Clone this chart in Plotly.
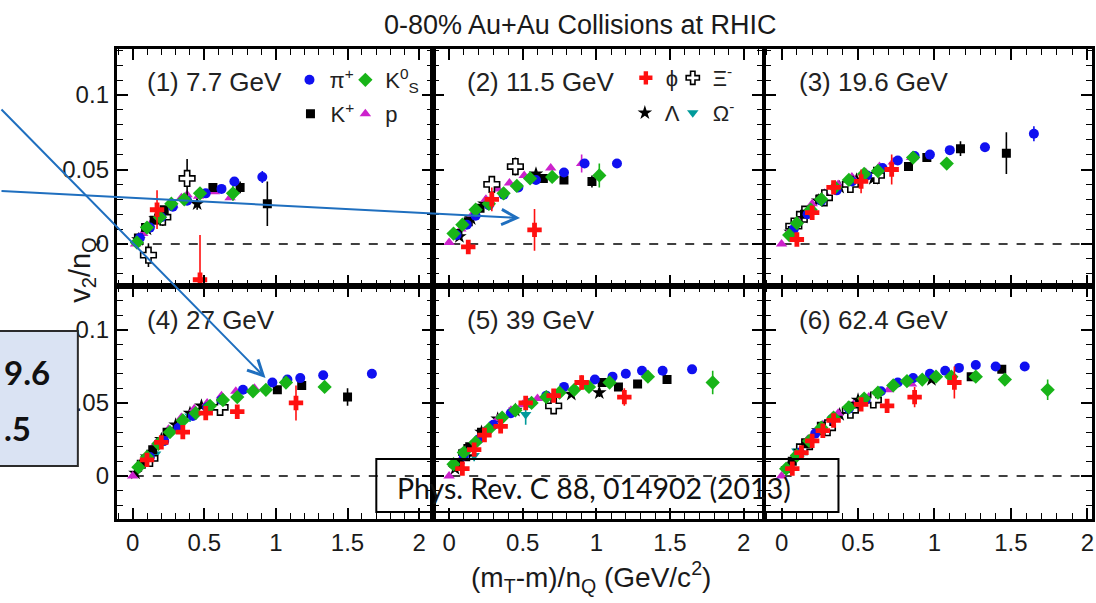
import plotly.graph_objects as go

W, H = 1096, 603

# ---------------- data (x = (mT-m)/nQ, y = v2/nQ, e = error) ----------------
PANEL_LABELS = ["(1) 7.7 GeV", "(2) 11.5 GeV", "(3) 19.6 GeV",
                "(4) 27 GeV", "(5) 39 GeV", "(6) 62.4 GeV"]
X_TICKS = [0, 0.5, 1, 1.5, 2]
Y_TICKS = [0, 0.05, 0.1]

PION_X = [[0.05, 0.12, 0.20, 0.28, 0.38, 0.51, 0.62, 0.71, 0.905],
          [0.05, 0.12, 0.18, 0.27, 0.37, 0.47, 0.59, 0.78, 0.92, 1.14],
          [0.08, 0.17, 0.26, 0.36, 0.46, 0.56, 0.66, 0.76, 0.87, 0.97, 1.10, 1.33, 1.65],
          [0.12, 0.22, 0.32, 0.42, 0.52, 0.62, 0.77, 0.975, 1.08, 1.17, 1.33, 1.67],
          [0.10, 0.20, 0.30, 0.42, 0.55, 0.66, 0.78, 0.99, 1.11, 1.20, 1.31, 1.45, 1.65],
          [0.12, 0.22, 0.33, 0.44, 0.55, 0.65, 0.76, 0.86, 0.97, 1.07, 1.16, 1.27, 1.40, 1.59]]
PION_Y = [[0.004, 0.011, 0.018, 0.025, 0.029, 0.034, 0.037, 0.042, 0.045],
          [0.006, 0.013, 0.019, 0.026, 0.033, 0.038, 0.043, 0.048, 0.054, 0.054],
          [0.010, 0.020, 0.029, 0.036, 0.042, 0.046, 0.051, 0.056, 0.059, 0.060, 0.063, 0.065, 0.074],
          [0.013, 0.024, 0.033, 0.041, 0.047, 0.052, 0.059, 0.064, 0.066, 0.067, 0.069, 0.070],
          [0.014, 0.025, 0.035, 0.043, 0.050, 0.055, 0.061, 0.066, 0.068, 0.070, 0.072, 0.072, 0.073],
          [0.016, 0.029, 0.039, 0.046, 0.052, 0.058, 0.064, 0.067, 0.070, 0.072, 0.074, 0.076, 0.075, 0.075]]
PION_E = [[0, 0, 0, 0, 0, 0, 0, 0.002, 0.004],
          [0, 0, 0, 0, 0, 0, 0, 0, 0.003, 0.002],
          [0, 0, 0, 0, 0, 0, 0, 0, 0, 0, 0, 0, 0.005],
          [0] * 12,
          [0] * 13,
          [0] * 14]

K0S_X = [[0.03, 0.10, 0.19, 0.27, 0.36, 0.47, 0.70],
         [0.03, 0.09, 0.18, 0.27, 0.37, 0.46, 0.55, 0.70, 1.02],
         [0.05, 0.10, 0.19, 0.26, 0.35, 0.44, 0.54, 0.63, 0.86, 1.08],
         [0.04, 0.10, 0.18, 0.26, 0.35, 0.44, 0.54, 0.63, 0.73, 0.84, 0.93, 1.07, 1.34],
         [0.03, 0.10, 0.18, 0.27, 0.36, 0.45, 0.56, 0.66, 0.75, 0.85, 0.95, 1.09, 1.35, 1.79],
         [0.03, 0.10, 0.18, 0.26, 0.34, 0.44, 0.54, 0.63, 0.73, 0.82, 0.92, 1.01, 1.11, 1.27, 1.46, 1.74]]
K0S_Y = [[0.001, 0.011, 0.018, 0.027, 0.030, 0.034, 0.034],
         [0.007, 0.013, 0.023, 0.027, 0.034, 0.039, 0.044, 0.045, 0.046],
         [0.006, 0.014, 0.023, 0.030, 0.038, 0.043, 0.047, 0.049, 0.058, 0.054],
         [0.006, 0.013, 0.022, 0.030, 0.038, 0.043, 0.048, 0.052, 0.054, 0.058, 0.059, 0.064, 0.061],
         [0.008, 0.016, 0.023, 0.032, 0.040, 0.045, 0.050, 0.054, 0.057, 0.059, 0.061, 0.064, 0.068, 0.064],
         [0.005, 0.014, 0.024, 0.033, 0.040, 0.047, 0.053, 0.057, 0.062, 0.065, 0.066, 0.068, 0.068, 0.068, 0.066, 0.059]]
K0S_E = [[0, 0, 0, 0, 0, 0.003, 0.005],
         [0, 0, 0, 0, 0, 0, 0, 0, 0.008],
         [0, 0, 0, 0, 0, 0, 0, 0, 0.003, 0.003],
         [0] * 13,
         [0] * 13 + [0.008],
         [0] * 14 + [0.004, 0.007]]

KPLUS_X = [[0.04, 0.09, 0.15, 0.22, 0.56, 0.75, 0.94],
           [0.06, 0.13, 0.21, 0.64, 0.78, 0.97],
           [0.07, 0.15, 0.25, 0.83, 0.95, 1.17, 1.47],
           [0.06, 0.14, 0.24, 1.01, 1.18, 1.50],
           [0.07, 0.14, 0.22, 1.04, 1.15, 1.28, 1.48],
           [0.07, 0.16, 0.26, 1.24, 1.44]]
KPLUS_Y = [[0.004, 0.011, 0.016, 0.023, 0.038, 0.038, 0.027],
           [0.007, 0.015, 0.024, 0.044, 0.043, 0.042],
           [0.009, 0.020, 0.030, 0.052, 0.058, 0.064, 0.061],
           [0.008, 0.018, 0.030, 0.059, 0.062, 0.054],
           [0.009, 0.020, 0.030, 0.064, 0.061, 0.063, 0.066],
           [0.010, 0.022, 0.034, 0.068, 0.073]]
KPLUS_E = [[0, 0, 0, 0, 0.002, 0.004, 0.015],
           [0, 0, 0, 0, 0, 0.004],
           [0, 0, 0, 0, 0, 0.005, 0.014],
           [0, 0, 0, 0, 0, 0.006],
           [0] * 7,
           [0] * 5]

PROTON_X = [[0.02, 0.07, 0.12, 0.19, 0.28, 0.34, 0.38, 0.46, 0.57, 0.68],
            [0.0, 0.08, 0.16, 0.25, 0.33, 0.41, 0.51, 0.69, 0.90],
            [0.0, 0.06, 0.12, 0.20, 0.28, 0.37, 0.46, 0.55, 0.64, 0.73, 0.85],
            [0.0, 0.08, 0.16, 0.25, 0.34, 0.43, 0.52, 0.62, 0.72, 0.85],
            [0.0, 0.07, 0.15, 0.24, 0.33, 0.42, 0.50, 0.60],
            [0.0, 0.08, 0.17, 0.27, 0.37, 0.47, 0.57, 0.70, 0.85]]
PROTON_Y = [[0.0, 0.007, 0.013, 0.020, 0.026, 0.031, 0.033, 0.032, 0.035, 0.031],
            [0.001, 0.010, 0.020, 0.030, 0.037, 0.041, 0.046, 0.051, 0.054],
            [0.0, 0.010, 0.018, 0.027, 0.034, 0.040, 0.045, 0.048, 0.052, 0.055, 0.058],
            [0.0, 0.012, 0.022, 0.032, 0.040, 0.046, 0.050, 0.055, 0.058, 0.060],
            [0.0, 0.010, 0.021, 0.031, 0.039, 0.045, 0.049, 0.053],
            [0.0, 0.013, 0.025, 0.035, 0.043, 0.049, 0.054, 0.059, 0.063]]
PROTON_E = [[0] * 10,
            [0] * 8 + [0.006],
            [0] * 11,
            [0] * 10,
            [0] * 8,
            [0] * 9]

PHI_X = [[0.17, 0.47],
         [0.13, 0.29, 0.58],
         [0.10, 0.20, 0.34, 0.52, 0.72],
         [0.10, 0.20, 0.35, 0.51, 0.73, 1.14],
         [0.09, 0.17, 0.24, 0.35, 0.52, 0.71, 0.90, 1.19],
         [0.07, 0.13, 0.20, 0.27, 0.34, 0.52, 0.69, 0.87, 1.13]]
PHI_Y = [[0.023, -0.024],
         [-0.002, 0.030, 0.0095],
         [0.003, 0.021, 0.038, 0.042, 0.050],
         [0.011, 0.023, 0.030, 0.043, 0.044, 0.050],
         [0.005, 0.018, 0.028, 0.034, 0.050, 0.055, 0.064, 0.054],
         [0.005, 0.016, 0.024, 0.031, 0.038, 0.049, 0.048, 0.054, 0.064]]
PHI_E = [[0.013, 0.030],
         [0.003, 0.008, 0.014],
         [0.003, 0.004, 0.004, 0.008, 0.010],
         [0.003, 0.003, 0.003, 0.004, 0.004, 0.012],
         [0.003, 0.003, 0.003, 0.003, 0.003, 0.004, 0.005, 0.006],
         [0.002, 0.002, 0.002, 0.003, 0.003, 0.003, 0.003, 0.007, 0.011]]

XI_X = [[0.11, 0.21, 0.38],
        [0.29, 0.45],
        [0.08, 0.15, 0.28, 0.45, 0.62],
        [0.12, 0.61],
        [0.12, 0.71],
        [0.15, 0.30, 0.45, 0.60]]
XI_Y = [[-0.0075, 0.018, 0.044],
        [0.040, 0.052],
        [0.012, 0.020, 0.031, 0.040, 0.046],
        [0.012, 0.047],
        [0.016, 0.048],
        [0.020, 0.033, 0.045, 0.052]]
XI_E = [[0.008, 0.006, 0.013],
        [0.003, 0.006],
        [0.003, 0.003, 0.003, 0.003, 0.003],
        [0.003, 0.003],
        [0.003, 0.003],
        [0.003, 0.003, 0.003, 0.003]]

LAMBDA_X = [[0.04, 0.10, 0.16, 0.45],
            [0.07, 0.15, 0.24, 0.59],
            [0.06, 0.14, 0.24, 0.38, 0.49, 0.60],
            [0.02, 0.10, 0.20, 0.30, 0.40, 0.48],
            [0.04, 0.12, 0.22, 0.33, 0.45, 0.83, 1.02],
            [0.04, 0.12, 0.24, 0.38, 0.50, 0.98]]
LAMBDA_Y = [[0.003, 0.010, 0.017, 0.027],
            [0.005, 0.017, 0.027, 0.047],
            [0.008, 0.018, 0.029, 0.038, 0.043, 0.044],
            [0.002, 0.013, 0.025, 0.035, 0.043, 0.048],
            [0.005, 0.017, 0.030, 0.039, 0.045, 0.056, 0.057],
            [0.005, 0.017, 0.031, 0.042, 0.052, 0.066]]
LAMBDA_E = [[0, 0, 0, 0.004],
            [0, 0, 0, 0],
            [0, 0, 0, 0, 0.003, 0],
            [0] * 6,
            [0, 0, 0, 0, 0, 0, 0.003],
            [0] * 6]

OMEGA_X = [[], [], [], [0.16, 0.40], [0.17, 0.52], [0.10, 0.30]]
OMEGA_Y = [[], [], [], [0.015, 0.041], [0.014, 0.042], [0.017, 0.036]]
OMEGA_E = [[], [], [], [0.004, 0.004], [0.004, 0.007], [0.005, 0.003]]

# ---------------- styles ----------------
SPECIES = [
    # name, X, Y, E, symbol, fill, line colour, line width, size, legend id
    ("Ω<sup>-</sup>", OMEGA_X, OMEGA_Y, OMEGA_E, "triangle-down", "#009a9a", "#009a9a", 0, 10, "legend8"),
    ("Λ", LAMBDA_X, LAMBDA_Y, LAMBDA_E, "star", "black", "black", 0, 11, "legend7"),
    ("p", PROTON_X, PROTON_Y, PROTON_E, "triangle-up", "#cc22cc", "#cc22cc", 0, 10, "legend4"),
    ("Ξ<sup>-</sup>", XI_X, XI_Y, XI_E, "cross", "white", "black", 1.6, 13, "legend6"),
    ("K<sup>+</sup>", KPLUS_X, KPLUS_Y, KPLUS_E, "square", "black", "black", 0, 9, "legend3"),
    ("π<sup>+</sup>", PION_X, PION_Y, PION_E, "circle", "#1010f0", "#1010f0", 0, 10, "legend"),
    ("K<sup>0</sup><sub>S</sub>", K0S_X, K0S_Y, K0S_E, "diamond", "#18b418", "#18b418", 0, 11, "legend2"),
    ("ϕ", PHI_X, PHI_Y, PHI_E, "cross", "#ff1010", "#ff1010", 0, 12, "legend5"),
]
ERR_COL = {"white": "black"}

# ---------------- geometry (pixels -> paper) ----------------
COL_PX = [(117, 434), (434, 764), (766, 1094)]
ROW_PX = [(49, 286), (286, 519)]
X_RANGES = [[-0.111, 2.098], [-0.108, 2.129], [-0.111, 2.03]]
Y_RANGES = [[-0.0282, 0.1309], [-0.0295, 0.1301]]

def px(x):
    return x / W

def py(y):
    return 1 - y / H

fig = go.Figure()
TICK_FONT = dict(family="Liberation Sans, Arial", size=24, color="#1a1a1a")

layout = dict(width=W, height=H, margin=dict(l=0, r=0, t=0, b=0),
              paper_bgcolor="white", plot_bgcolor="white", showlegend=True)
shapes = []
annotations = []

for i in range(6):
    r, c = divmod(i, 3)
    n = i + 1
    xk = "xaxis" if n == 1 else f"xaxis{n}"
    yk = "yaxis" if n == 1 else f"yaxis{n}"
    xr = "x" if n == 1 else f"x{n}"
    yr = "y" if n == 1 else f"y{n}"
    layout[xk] = dict(domain=[px(COL_PX[c][0]), px(COL_PX[c][1])], range=X_RANGES[c], anchor=yr,
                      showline=True, linewidth=3, linecolor="black", mirror="allticks",
                      ticks="inside", ticklen=11, tickwidth=1.5, tickcolor="black",
                      tickmode="array", tickvals=X_TICKS, ticktext=[f"{v:g}" for v in X_TICKS],
                      minor=dict(ticks="inside", ticklen=6, tickwidth=1.3, tickcolor="black",
                                 tickmode="linear", tick0=0, dtick=0.1),
                      showgrid=False, zeroline=False, showticklabels=(r == 1),
                      tickfont=TICK_FONT, ticklabelstandoff=0, ticklabeloverflow="allow")
    layout[yk] = dict(domain=[py(ROW_PX[r][1]), py(ROW_PX[r][0])], range=Y_RANGES[r], anchor=xr,
                      showline=True, linewidth=3, linecolor="black", mirror="allticks",
                      ticks="inside", ticklen=11, tickwidth=1.5, tickcolor="black",
                      tickmode="array", tickvals=Y_TICKS, ticktext=[f"{v:g}" for v in Y_TICKS],
                      minor=dict(ticks="inside", ticklen=6, tickwidth=1.3, tickcolor="black",
                                 tickmode="linear", tick0=0, dtick=0.01),
                      showgrid=False, zeroline=False, showticklabels=(c == 0),
                      tickfont=TICK_FONT, ticklabelstandoff=0, ticklabeloverflow="allow")
    # dashed zero line
    shapes.append(dict(type="line", xref=f"{xr} domain", yref=yr, x0=0, x1=1, y0=0, y1=0,
                       line=dict(color="black", width=1.4, dash="dash"), layer="below"))
    # panel label
    lx = [145, 466, 798][c]
    ly = [82, 320][r]
    annotations.append(dict(text=PANEL_LABELS[i], xref="paper", yref="paper", x=px(lx), y=py(ly),
                            xanchor="left", yanchor="middle", showarrow=False,
                            font=dict(family="Liberation Sans, Arial", size=26, color="#222")))
    for (name, X, Y, E, sym, fill, lc, lw, size, leg) in SPECIES:
        if not X[i]:
            continue
        fig.add_trace(go.Scatter(
            x=X[i], y=Y[i], mode="markers", xaxis=xr, yaxis=yr, showlegend=False,
            marker=dict(symbol=sym, color=fill, size=size, line=dict(color=lc, width=lw)),
            error_y=dict(type="data", array=E[i], visible=True, width=0, thickness=1.6,
                         color=ERR_COL.get(fill, fill)),
            hoverinfo="skip"))

# ---------------- legends (one entry each) ----------------
LEG_POS = {"legend": (310, 80), "legend2": (366, 80), "legend3": (311, 114), "legend4": (366, 114),
           "legend5": (647, 78), "legend6": (694, 78), "legend7": (646, 113), "legend8": (694, 113)}
for (name, X, Y, E, sym, fill, lc, lw, size, leg) in SPECIES:
    fig.add_trace(go.Scatter(x=[None], y=[None], mode="markers", name=name, legend=leg,
                             marker=dict(symbol=sym, color=fill, size=min(size, 11),
                                         line=dict(color=lc, width=lw)),
                             showlegend=True))
    sx, sy = LEG_POS[leg]
    layout[leg] = dict(x=px(sx - 20), y=py(sy), xanchor="left", yanchor="middle",
                       bgcolor="rgba(0,0,0,0)", borderwidth=0, itemwidth=30,
                       font=dict(family="Liberation Sans, Arial", size=22, color="#222"))

# ---------------- titles & decorations ----------------
annotations += [
    dict(text="0-80% Au+Au Collisions at RHIC", xref="paper", yref="paper", x=px(581), y=py(25),
         xanchor="center", yanchor="middle", showarrow=False,
         font=dict(family="Liberation Sans, Arial", size=27, color="#1a1a1a")),
    dict(text="v<sub>2</sub>/n<sub>Q</sub>", xref="paper", yref="paper", x=px(82), y=py(270),
         xanchor="center", yanchor="middle", textangle=-90, showarrow=False,
         font=dict(family="Liberation Sans, Arial", size=29, color="#1a1a1a")),
    dict(text="(m<sub>T</sub>-m)/n<sub>Q</sub> (GeV/c<sup>2</sup>)", xref="paper", yref="paper",
         x=px(592), y=py(577), xanchor="center", yanchor="middle", showarrow=False,
         font=dict(family="Liberation Sans, Arial", size=28, color="#1a1a1a")),
    # blue arrows
    dict(text="", xref="paper", yref="paper", x=px(521), y=py(218), ax=-521, ay=-27,
         showarrow=True, arrowhead=5, arrowsize=1.5, arrowwidth=2, arrowcolor="#1f6fbf"),
    dict(text="", xref="paper", yref="paper", x=px(266), y=py(378), ax=-266, ay=-270,
         showarrow=True, arrowhead=5, arrowsize=1.5, arrowwidth=2, arrowcolor="#1f6fbf"),
    # left partial box text
    dict(text="<b>9.6</b>", xref="paper", yref="paper", x=px(52), y=py(372),
         xanchor="right", yanchor="middle", showarrow=False,
         font=dict(family="Lato, Open Sans", size=33, color="#111")),
    dict(text="<b>.5</b>", xref="paper", yref="paper", x=px(33), y=py(428),
         xanchor="right", yanchor="middle", showarrow=False,
         font=dict(family="Lato, Open Sans", size=33, color="#111")),
    # citation
    dict(text="Phys. Rev. C 88, 014902 (2013)", xref="paper", yref="paper", x=px(396), y=py(488),
         xanchor="left", yanchor="middle", showarrow=False,
         font=dict(family="Lato, Open Sans", size=28.5, color="#111")),
]
shapes += [
    dict(type="rect", xref="paper", yref="paper", x0=px(-10), x1=px(78), y0=py(466), y1=py(331),
         fillcolor="#dae3f3", line=dict(color="#2b2b2b", width=2), layer="above"),
    dict(type="rect", xref="paper", yref="paper", x0=px(377), x1=px(840), y0=py(512), y1=py(459),
         fillcolor="rgba(0,0,0,0)", line=dict(color="black", width=2), layer="above"),
]
layout["shapes"] = shapes
layout["annotations"] = annotations
fig.update_layout(**layout)
fig.write_html("out.html")
